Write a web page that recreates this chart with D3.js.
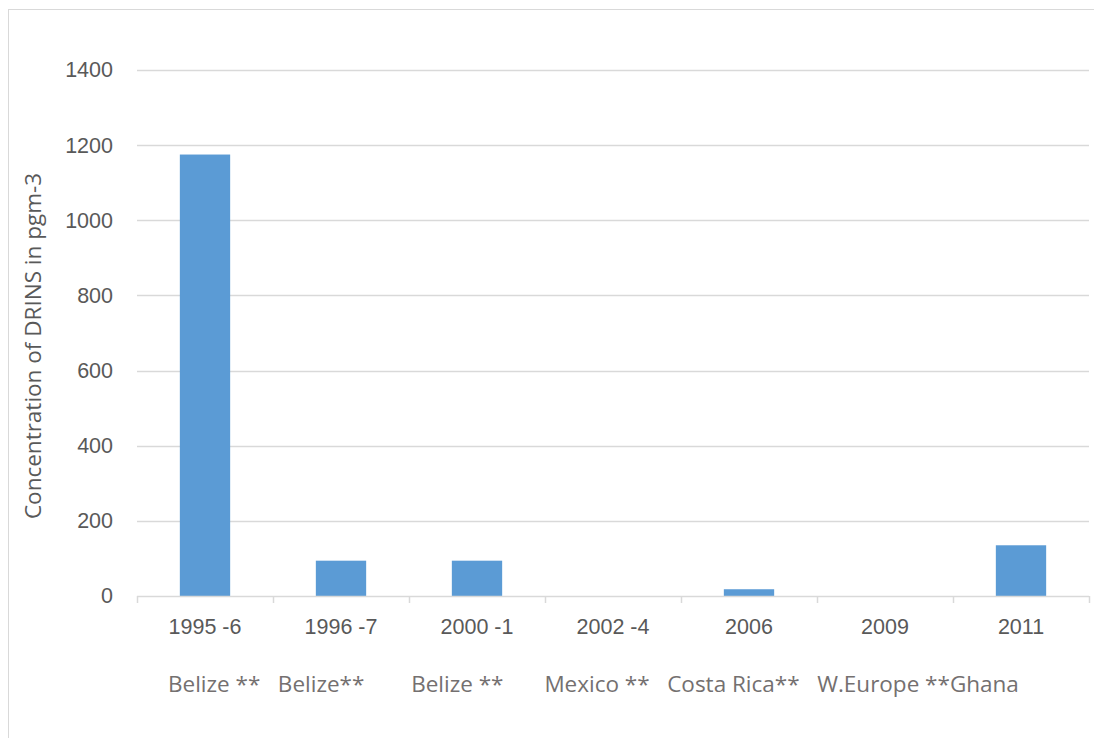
<!DOCTYPE html>
<html>
<head>
<meta charset="utf-8">
<script src="https://cdn.jsdelivr.net/npm/d3@7"></script>
<style>
  html, body { margin: 0; padding: 0; background: #ffffff; }
  svg { display: block; font-family: "Open Sans", sans-serif; }
</style>
</head>
<body>
<svg id="chart" width="1094" height="738"></svg>
<script>
// Periods sampled and DRINS concentration (pg/m3)
const periods = ["1995 -6", "1996 -7", "2000 -1", "2002 -4", "2006", "2009", "2011"];
const concentrations = [1175, 94, 94, 0, 18, 0, 135];
const yTicks = [0, 200, 400, 600, 800, 1000, 1200, 1400];
const regionLine = "Belize **   Belize**        Belize **       Mexico **   Costa Rica**   W.Europe **Ghana";
const yTitle = "Concentration of DRINS in pgm-3";

const svg = d3.select("#chart");
const W = 1094, H = 738;
const plot = { left: 137, right: 1089, top: 70, bottom: 596 };

// outer chart frame
svg.append("rect")
  .attr("x", 8.5).attr("y", 9.5)
  .attr("width", W + 20).attr("height", H + 20)
  .attr("fill", "#ffffff").attr("stroke", "#d9d9d9").attr("stroke-width", 1);

const x = d3.scaleBand()
  .domain(periods)
  .range([plot.left, plot.right])
  .paddingInner(0.63)
  .paddingOuter(0.315);

const y = d3.scaleLinear()
  .domain([0, 1400])
  .range([plot.bottom, plot.top]);

// horizontal gridlines
svg.append("g")
  .selectAll("line")
  .data(yTicks.filter(d => d > 0))
  .join("line")
  .attr("x1", plot.left).attr("x2", plot.right)
  .attr("y1", d => Math.round(y(d)) + 0.5).attr("y2", d => Math.round(y(d)) + 0.5)
  .attr("stroke", "#d9d9d9").attr("stroke-width", 1.5);

// y axis labels
const yAxis = d3.axisLeft(y).tickValues(yTicks).tickFormat(d3.format("d")).tickSize(0).tickPadding(24);
const gy = svg.append("g").attr("transform", `translate(${plot.left},0)`).call(yAxis);
gy.select(".domain").remove();
gy.selectAll("text")
  .attr("fill", "#595959")
  .style("font-size", "21.5px");

// bars
svg.append("g")
  .selectAll("rect")
  .data(periods.map((p, i) => ({ p, v: concentrations[i] })))
  .join("rect")
  .attr("x", d => x(d.p))
  .attr("width", x.bandwidth())
  .attr("y", d => y(d.v))
  .attr("height", d => y(0) - y(d.v))
  .attr("fill", "#5b9bd5");

// x axis line with ticks at category boundaries
const step = x.step();
const bounds = d3.range(periods.length + 1).map(i => plot.left + i * step);
const gx = svg.append("g");
gx.append("line")
  .attr("x1", plot.left).attr("x2", plot.right)
  .attr("y1", plot.bottom + 0.5).attr("y2", plot.bottom + 0.5)
  .attr("stroke", "#d9d9d9").attr("stroke-width", 1.5);
gx.selectAll("line.tick")
  .data(bounds)
  .join("line")
  .attr("class", "tick")
  .attr("x1", d => Math.round(d) + 0.5).attr("x2", d => Math.round(d) + 0.5)
  .attr("y1", plot.bottom).attr("y2", plot.bottom + 7)
  .attr("stroke", "#d9d9d9").attr("stroke-width", 1.5);

const xAxis = d3.axisBottom(x).tickSize(0).tickPadding(23);
const gxl = svg.append("g").attr("transform", `translate(0,${plot.bottom})`).call(xAxis);
gxl.select(".domain").remove();
gxl.selectAll("text")
  .attr("fill", "#595959")
  .style("font-size", "21.5px");

// region line under the periods
svg.append("text")
  .attr("x", 168).attr("y", 692)
  .attr("fill", "#747070")
  .style("font-size", "22.5px")
  .style("white-space", "pre")
  .attr("xml:space", "preserve")
  .text(regionLine);

// y axis title
svg.append("text")
  .attr("transform", "translate(41,346) rotate(-90)")
  .attr("text-anchor", "middle")
  .attr("fill", "#595959")
  .style("font-size", "22.5px")
  .text(yTitle);
</script>
</body>
</html>
